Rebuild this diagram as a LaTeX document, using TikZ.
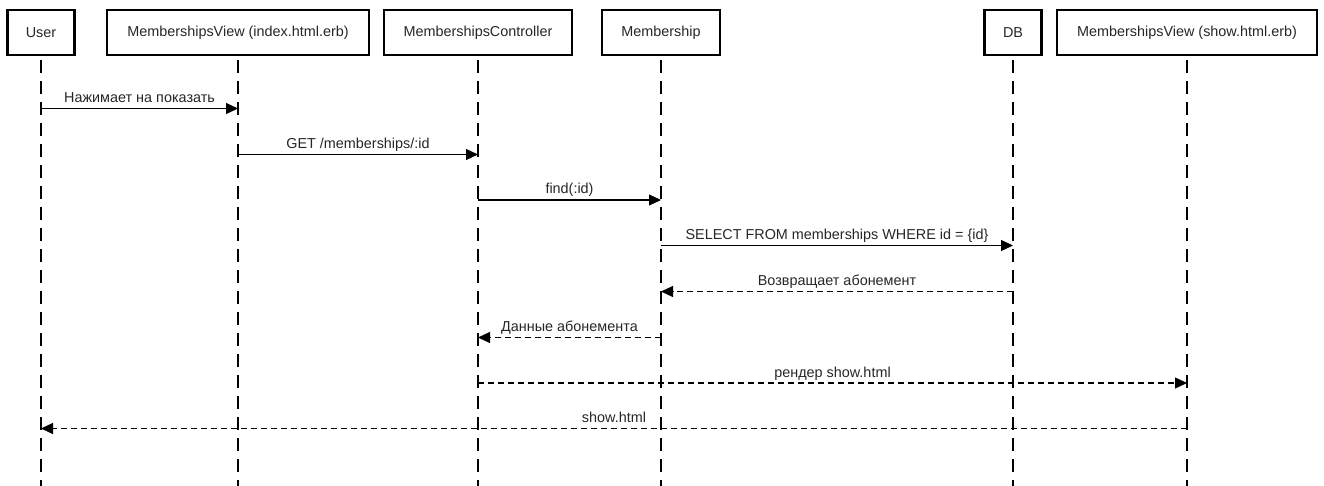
\documentclass[tikz,border=0pt]{standalone}
\usepackage{fontspec}
\setmainfont{Liberation Sans}
\usetikzlibrary{arrows.meta}

\begin{document}
\begin{tikzpicture}[x=1pt,y=-1pt,
  actor/.style={draw,line width=2.4pt,minimum height=45pt,inner sep=0pt,text=black!85,font=\fontsize{14.4}{16}\selectfont},
  lifeline/.style={line width=1.2pt,dash pattern=on 13pt off 8pt,dash phase=-4pt},
  msg/.style={line width=1.2pt,-{Triangle[length=12pt,width=11pt]}},
  reply/.style={msg,dash pattern=on 6pt off 4pt},
  lbl/.style={midway,anchor=base,yshift=6pt,text=black!85,font=\fontsize{14.4}{16}\selectfont}]
\useasboundingbox (0,0) rectangle (1324,486);
% participants
\node[actor,minimum width=67pt] (user) at (41,32.5) {User};
\node[actor,minimum width=262pt] (iview) at (238,32.5) {MembershipsView (index.html.erb)};
\node[actor,minimum width=188pt] (ctrl) at (478,32.5) {MembershipsController};
\node[actor,minimum width=118pt] (model) at (661,32.5) {Membership};
\node[actor,minimum width=57pt] (db) at (1013,32.5) {DB};
\node[actor,minimum width=260pt] (sview) at (1187,32.5) {MembershipsView (show.html.erb)};
% lifelines
\coordinate (bottom) at (0,486);
\draw[lifeline] (user) -- (user |- bottom);
\draw[lifeline] (iview) -- (iview |- bottom);
\draw[lifeline] (ctrl) -- (ctrl |- bottom);
\draw[lifeline] (model) -- (model |- bottom);
\draw[lifeline] (db) -- (db |- bottom);
\draw[lifeline] (sview) -- (sview |- bottom);
% message rows
\coordinate (r1) at (0,108.5);
\coordinate (r2) at (0,154.5);
\coordinate (r3) at (0,200);
\coordinate (r4) at (0,245.5);
\coordinate (r5) at (0,291.5);
\coordinate (r6) at (0,337.5);
\coordinate (r7) at (0,383);
\coordinate (r8) at (0,428.5);
% messages
\draw[msg] (user |- r1) -- (iview |- r1) node[lbl] {Нажимает на показать};
\draw[msg] (iview |- r2) -- (ctrl |- r2) node[lbl] {GET /memberships/:id};
\draw[msg] (ctrl |- r3) -- (model |- r3) node[lbl] {find(:id)};
\draw[msg] (model |- r4) -- (db |- r4) node[lbl] {SELECT FROM memberships WHERE id = \{id\}};
\draw[reply] (db |- r5) -- (model |- r5) node[lbl] {Возвращает абонемент};
\draw[reply] (model |- r6) -- (ctrl |- r6) node[lbl] {Данные абонемента};
\draw[reply] (ctrl |- r7) -- (sview |- r7) node[lbl] {рендер show.html};
\draw[reply] (sview |- r8) -- (user |- r8) node[lbl] {show.html};
\end{tikzpicture}
\end{document}
